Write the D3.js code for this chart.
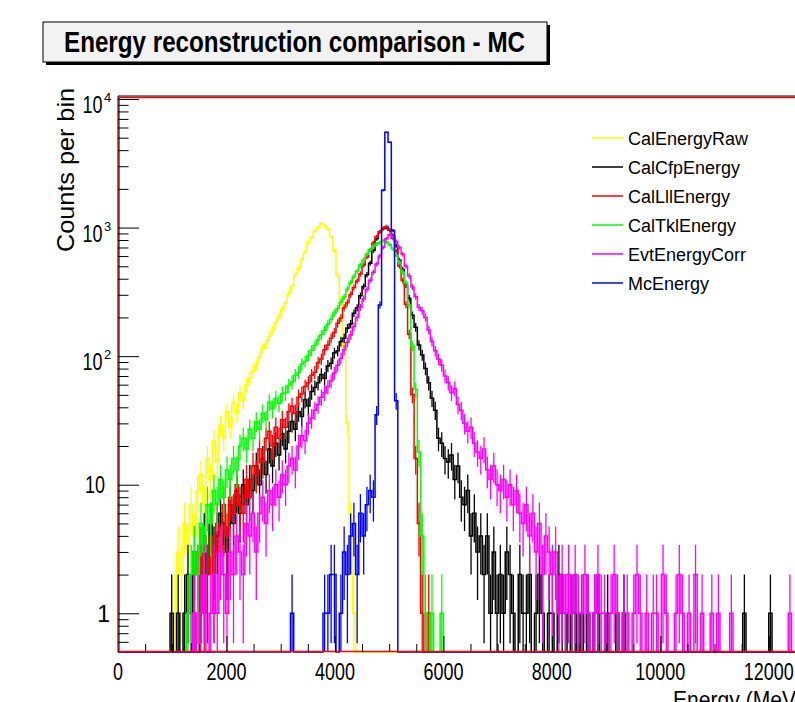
<!doctype html>
<html>
<head>
    <style>
        body { margin: 0; background: #fff; }
        svg { display: block; font-family: "Liberation Sans", Arial, Helvetica, sans-serif; }
        .hist { fill: none; stroke-width: 1.5; }
        .err { stroke-width: 1.3; }
    </style>
    <script src="https://d3js.org/d3.v7.min.js"></script>
</head>
<body>

<svg width="795" height="702"></svg>
<script>

    // bin width in MeV, first bin low edge given per series
    var binWidth = 60;

    var calEnergyRawStart = 1020;
    var calEnergyRaw = [1, 3, 2, 5, 3, 7, 4, 9, 12, 7, 16, 11, 22, 15, 29, 23, 37, 28, 44, 36,
        52, 45, 60, 68, 76, 86, 98, 115, 124, 142, 158, 182, 200, 230, 258, 305, 348, 424, 480, 566,
        646, 768, 838, 940, 1002, 1080, 1035, 970, 850, 660, 425, 280, 115, 30, 5, 1];

    var calCfpEnergyStart = 960;
    var calCfpEnergy = [1, 0, 1, 0, 1, 2, 1, 3, 2, 2, 4, 2, 5, 3, 4, 6, 5, 3, 7, 5,
        9, 6, 10, 7, 11, 9, 14, 10, 16, 12, 19, 14, 21, 17, 25, 19, 26, 31, 27, 37,
        34, 46, 41, 53, 57, 62, 72, 67, 84, 88, 106, 110, 130, 138, 165, 178, 216, 238, 295, 348,
        430, 528, 662, 818, 928, 978, 1000, 952, 868, 722, 558, 472, 358, 282, 208, 168, 122, 102, 80, 62,
        47, 38, 23, 21, 16, 15, 17, 11, 14, 8, 7, 9, 4, 6, 3, 4, 2, 4, 1, 3,
        1, 2, 1, 3, 2, 1, 0, 2, 1, 1, 2, 0, 1, 2, 1, 0, 1, 1, 0, 2,
        1, 1, 0, 1, 1, 0, 1, 0, 1, 0, 1, 1, 0, 0, 1, 0, 0, 1, 0, 1,
        0, 0, 0, 0, 0, 0, 0, 0, 0, 0, 0, 0, 0, 0, 0, 0, 0, 0, 0, 0,
        0, 0, 0, 0, 0, 0, 0, 0, 0, 0, 0, 0, 0, 0, 0, 0, 1, 0, 0, 0,
        0, 0, 0, 0, 1];

    var calLllEnergyStart = 1380;
    var calLllEnergy = [1, 0, 3, 1, 2, 4, 2, 5, 3, 7, 4, 8, 6, 10, 7, 6, 11, 8, 14, 12,
        19, 15, 23, 26, 20, 28, 23, 32, 28, 37, 41, 36, 48, 51, 58, 62, 71, 75, 89, 95,
        112, 122, 138, 153, 180, 198, 238, 260, 302, 342, 384, 436, 512, 588, 672, 758, 852, 928, 992, 1020,
        958, 822, 658, 502, 388, 252, 148, 50, 16, 5, 1, 0, 1];

    var calTklEnergyStart = 1260;
    var calTklEnergy = [1, 2, 3, 2, 5, 3, 7, 5, 9, 7, 11, 8, 13, 11, 16, 13, 20, 23, 19, 27,
        23, 31, 27, 36, 32, 44, 39, 47, 43, 51, 52, 59, 63, 71, 75, 87, 91, 101, 111, 121,
        134, 147, 159, 177, 194, 217, 234, 263, 289, 331, 374, 416, 459, 511, 559, 621, 669, 711, 744, 761,
        790, 775, 735, 680, 610, 540, 450, 370, 250, 120, 55, 18, 4, 1, 0, 1, 0, 0, 1];

    var evtEnergyCorrStart = 1380;
    var evtEnergyCorr = [1, 0, 1, 2, 0, 1, 2, 1, 3, 2, 1, 3, 2, 4, 3, 2, 5, 4, 6, 3,
        6, 8, 5, 9, 7, 10, 8, 12, 10, 14, 16, 13, 20, 24, 22, 30, 33, 38, 42, 48,
        52, 58, 64, 74, 85, 96, 112, 128, 146, 170, 200, 240, 280, 330, 390, 450, 520, 600, 700, 820,
        880, 850, 780, 700, 620, 500, 420, 345, 290, 240, 225, 200, 160, 130, 110, 95, 85, 70, 62, 52,
        56, 42, 38, 30, 26, 28, 21, 18, 16, 19, 13, 11, 14, 10, 9, 11, 8, 10, 7, 9,
        6, 5, 7, 4, 6, 3, 5, 2, 4, 3, 2, 3, 1, 2, 1, 2, 1, 2, 1, 1,
        2, 1, 0, 1, 2, 1, 1, 0, 1, 2, 1, 0, 1, 1, 0, 1, 2, 1, 0, 1,
        0, 1, 1, 0, 2, 1, 0, 0, 1, 2, 1, 0, 1, 0, 2, 0, 1, 0, 0, 1,
        0, 1, 0, 0, 0, 1, 0, 0, 0, 0, 0, 0, 0, 0, 0, 0, 0, 0, 0, 0,
        0, 0, 0, 1];

    var mcEnergyStart = 3180;
    var mcEnergy = [1, 0, 0, 0, 0, 0, 0, 0, 0, 0, 1, 1, 2, 2, 0, 1, 3, 2, 4, 5,
        2, 6, 4, 7, 9, 8, 35, 250, 1950, 5500, 4600, 950, 45];

    var seriesNames = ["CalEnergyRaw", "CalCfpEnergy", "CalLllEnergy", "CalTklEnergy", "EvtEnergyCorr", "McEnergy"];
    var seriesColors = ["#ffff00", "#000000", "#ff0000", "#00ff00", "#ff00ff", "#0000ff"];
    var seriesData = [calEnergyRaw, calCfpEnergy, calLllEnergy, calTklEnergy, evtEnergyCorr, mcEnergy];
    var seriesStart = [calEnergyRawStart, calCfpEnergyStart, calLllEnergyStart, calTklEnergyStart, evtEnergyCorrStart, mcEnergyStart];

    var xTicks = [0, 2000, 4000, 6000, 8000, 10000, 12000];
    var yTicks = [1, 10, 100, 1000, 10000];
    var yTickLabels = [["1", ""], ["10", ""], ["10", "2"], ["10", "3"], ["10", "4"]];

    var svg = d3.select("svg");
    var frameL = 118, frameT = 96, frameB = 652, frameR = 823;
    var xMax = 13000;

    var x = d3.scaleLinear().domain([0, xMax]).range([frameL, frameR]);
    var y = d3.scaleLog().domain([0.5, 10550]).range([frameB, frameT]);

    // title box
    svg.append("rect").attr("x", 46).attr("y", 25).attr("width", 504).attr("height", 40).attr("fill", "#000");
    svg.append("rect").attr("x", 43).attr("y", 22).attr("width", 504).attr("height", 40)
       .attr("fill", "#f2f2f2").attr("stroke", "#000").attr("stroke-width", 1);
    svg.append("text").attr("x", 64).attr("y", 52)
       .attr("font-size", 30).attr("font-weight", "bold")
       .attr("textLength", 461).attr("lengthAdjust", "spacingAndGlyphs")
       .text("Energy reconstruction comparison - MC");

    svg.append("defs").append("clipPath").attr("id", "frame")
       .append("rect").attr("x", frameL).attr("y", frameT - 1).attr("width", frameR - frameL).attr("height", frameB - frameT + 2);

    var plot = svg.append("g").attr("clip-path", "url(#frame)");

    var nBins = Math.ceil(xMax / binWidth);
    var line = d3.line().x(function(d) { return d[0]; }).y(function(d) { return d[1]; });

    seriesData.forEach(function(counts, s) {
        var startBin = Math.round(seriesStart[s] / binWidth);
        var bins = [];
        for (var i = 0; i < nBins; i++) {
            var k = i - startBin;
            var n = (k >= 0 && k < counts.length) ? counts[k] : 0;
            bins.push({ x0: i * binWidth, x1: (i + 1) * binWidth, n: n });
        }
        var pts = [];
        bins.forEach(function(b) {
            var yy = y(Math.max(b.n, 0.5));
            pts.push([x(b.x0), yy]);
            pts.push([x(b.x1), yy]);
        });
        var g = plot.append("g");
        g.append("path").attr("class", "hist").attr("stroke", seriesColors[s]).attr("d", line(pts));
        g.selectAll("line.err")
         .data(bins.filter(function(b) { return b.n > 0; }))
         .enter().append("line")
         .attr("class", "err")
         .attr("stroke", seriesColors[s])
         .attr("x1", function(b) { return x((b.x0 + b.x1) / 2); })
         .attr("x2", function(b) { return x((b.x0 + b.x1) / 2); })
         .attr("y1", function(b) { return y(Math.max(b.n - Math.sqrt(b.n), 0.5)); })
         .attr("y2", function(b) { return y(b.n + Math.sqrt(b.n)); });
    });

    // frame
    svg.append("rect").attr("x", frameL + 1).attr("y", frameT + 1.5).attr("width", frameR - frameL).attr("height", frameB - frameT - 2)
       .attr("fill", "none").attr("stroke", "#ff0000").attr("stroke-width", 1.5);
    svg.append("path").attr("d", "M" + frameR + "," + frameT + "H" + frameL + "V" + frameB)
       .attr("fill", "none").attr("stroke", "#000").attr("stroke-width", 1);

    // y axis ticks (log)
    var minor = [];
    [0.1, 1, 10, 100, 1000].forEach(function(dec) {
        for (var m = 2; m <= 9; m++) {
            var v = dec * m;
            if (v > 0.5 && v < 10000) minor.push(v);
        }
    });
    svg.append("g").attr("transform", "translate(" + frameL + ",0)")
       .call(d3.axisLeft(y).tickValues(minor).tickSize(-10.5).tickFormat(""))
       .call(function(g) { g.select(".domain").remove(); });
    svg.append("g").attr("transform", "translate(" + frameL + ",0)")
       .call(d3.axisLeft(y).tickValues(yTicks).tickSize(-21).tickFormat(""))
       .call(function(g) { g.select(".domain").remove(); });

    yTicks.forEach(function(v, i) {
        var lab = yTickLabels[i];
        if (lab[1] === "") {
            var t = svg.append("text").attr("x", lab[0] === "1" ? 110 : 105).attr("y", y(v) + 8.5)
               .attr("text-anchor", "end").attr("font-size", 23)
               .text(lab[0]);
            if (lab[0].length > 1) t.attr("textLength", 20).attr("lengthAdjust", "spacingAndGlyphs");
        } else {
            svg.append("text").attr("x", 82.5).attr("y", y(v) + 14)
               .attr("font-size", 23)
               .attr("textLength", 20).attr("lengthAdjust", "spacingAndGlyphs")
               .text(lab[0]);
            svg.append("text").attr("x", 104).attr("y", y(v) + 3)
               .attr("font-size", 13)
               .text(lab[1]);
        }
    });

    // x axis ticks
    var xMinor = d3.range(500, xMax, 500).filter(function(v) { return v % 2000 !== 0; });
    svg.append("g").attr("transform", "translate(0," + frameB + ")")
       .call(d3.axisBottom(x).tickValues(xMinor).tickSize(-8).tickFormat(""))
       .call(function(g) { g.select(".domain").remove(); });
    svg.append("g").attr("transform", "translate(0," + frameB + ")")
       .call(d3.axisBottom(x).tickValues(xTicks.filter(function(v) { return v > 0; })).tickSize(-16).tickFormat(""))
       .call(function(g) { g.select(".domain").remove(); });

    svg.selectAll("g.tick line").attr("stroke", "#000");

    svg.selectAll("text.xlab")
       .data(xTicks)
       .enter().append("text")
       .attr("class", "xlab")
       .attr("x", function(d) { return x(d); })
       .attr("y", 680)
       .attr("text-anchor", "middle")
       .attr("font-size", 24)
       .attr("textLength", function(d) { return String(d).length * 10; })
       .attr("lengthAdjust", "spacingAndGlyphs")
       .text(function(d) { return d; });

    // axis titles
    svg.append("text").attr("x", 673).attr("y", 708)
       .attr("font-size", 24).attr("textLength", 130).attr("lengthAdjust", "spacingAndGlyphs")
       .text("Energy (MeV)");
    svg.append("text").attr("transform", "translate(74,88) rotate(-90)")
       .attr("text-anchor", "end").attr("font-size", 24)
       .attr("textLength", 164).attr("lengthAdjust", "spacingAndGlyphs")
       .text("Counts per bin");

    // legend
    var legend = svg.append("g");
    seriesNames.forEach(function(name, i) {
        var cy = 138 + i * 29;
        legend.append("line").attr("x1", 592).attr("x2", 623).attr("y1", cy).attr("y2", cy)
              .attr("stroke", seriesColors[i]).attr("stroke-width", 1.5);
        legend.append("text").attr("x", 628).attr("y", cy + 6.5).attr("font-size", 18).text(name);
    });

</script>
</body>
</html>
